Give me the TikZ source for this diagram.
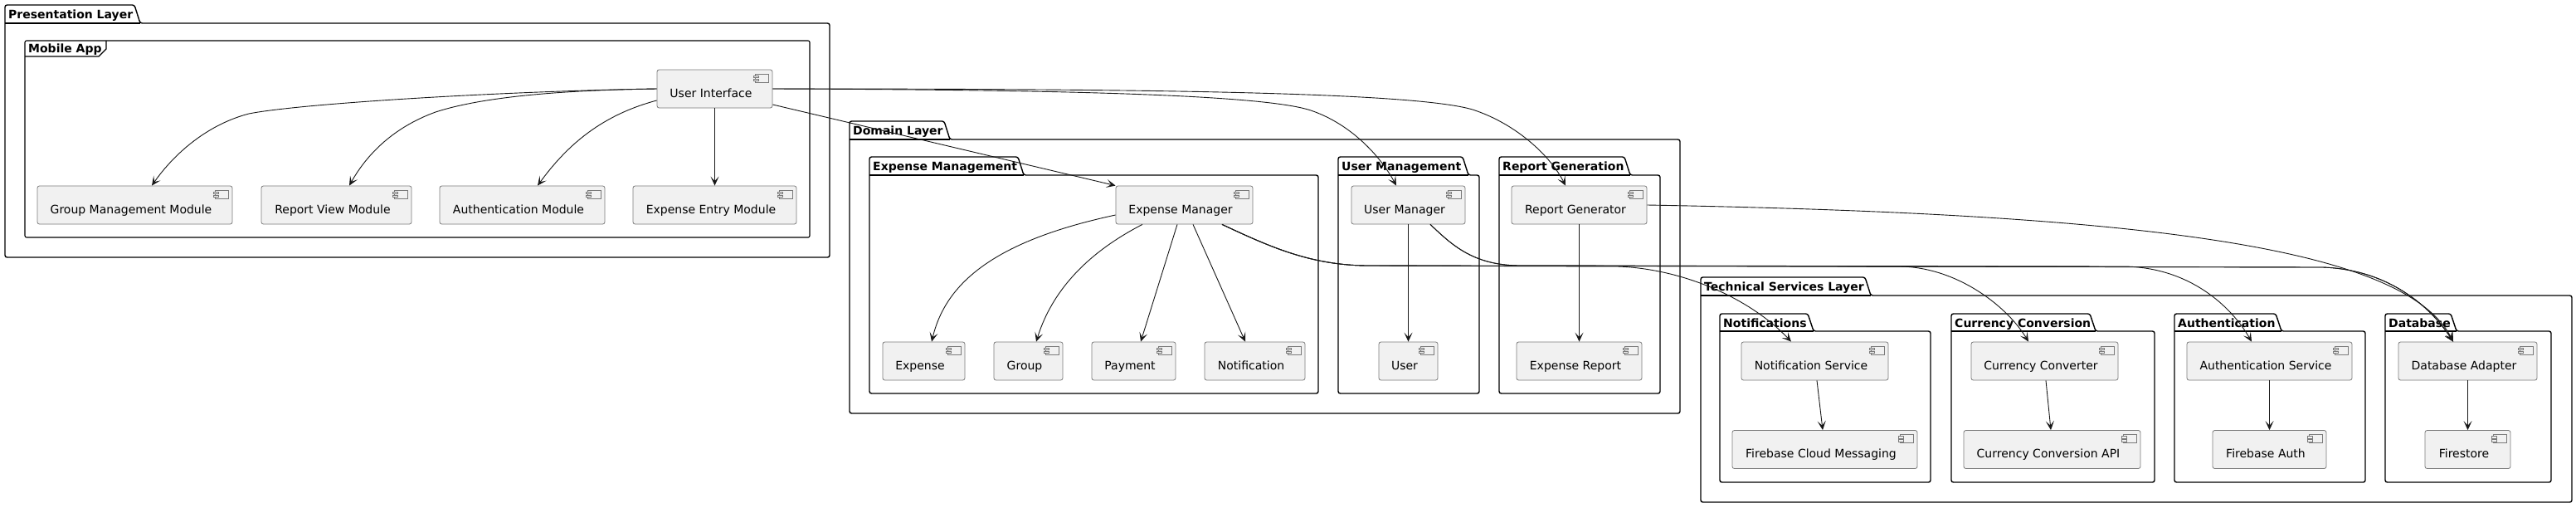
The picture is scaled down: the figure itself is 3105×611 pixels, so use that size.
\documentclass[tikz,border=0pt]{standalone}
\usepackage{fontspec}
\setmainfont{DejaVu Sans}
\usetikzlibrary{arrows.meta}
\definecolor{compfill}{HTML}{F1F1F1}
\definecolor{compline}{HTML}{7A7A7A}
\definecolor{arrowc}{HTML}{181818}
\tikzset{
  comp/.style={draw=compline, fill=compfill, line width=0.8pt, rounded corners=2.5pt,
    inner sep=0pt, minimum height=46pt, text height=25pt, text depth=5pt,
    font=\fontsize{14}{16}\selectfont, execute at begin node={\hspace*{-9pt}},
    path picture={
      \draw[sharp corners, draw=compline, line width=0.7pt, fill=compfill]
        ([xshift=-20.5pt,yshift=-5.3pt]path picture bounding box.north east) rectangle
        ([xshift=-4.5pt,yshift=-15.3pt]path picture bounding box.north east);
      \draw[sharp corners, draw=compline, line width=0.7pt, fill=compfill]
        ([xshift=-22.5pt,yshift=-7pt]path picture bounding box.north east) rectangle
        ([xshift=-17pt,yshift=-9.5pt]path picture bounding box.north east);
      \draw[sharp corners, draw=compline, line width=0.7pt, fill=compfill]
        ([xshift=-22.5pt,yshift=-11.2pt]path picture bounding box.north east) rectangle
        ([xshift=-17pt,yshift=-13.7pt]path picture bounding box.north east);
    }},
  pkg/.style={draw=black, line width=1.4pt, rounded corners=2.5pt},
  pkgtab/.style={draw=black, line width=1.4pt},
  frm/.style={draw=black, line width=1.1pt},
  pkglabel/.style={anchor=base west, inner sep=0pt, font=\bfseries\fontsize{14}{16}\selectfont},
  arr/.style={draw=arrowc, line width=0.9pt, -{Stealth[length=11pt,width=10pt,inset=5.5pt]}}
}
% #1 name, #2 L, #3 T, #4 body top, #5 bottom, #6 R, #7 tab right, #8 label
\newcommand{\pkgbox}[8]{%
  \draw[pkg] (#2,#5) -- (#2,#3) -- (#7,#3) -- ({#7+7},#4) -- (#6,#4) -- (#6,#5) -- cycle;
  \draw[pkgtab] (#2,#4) -- ({#7+7},#4);
  \node[pkglabel] (#1) at ({#2+4},{#3+16}) {#8};}
\begin{document}
\begin{tikzpicture}[x=1pt,y=-1pt]
\useasboundingbox[fill=white] (0,0) rectangle (3105,611);

% packages
\pkgbox{pres}{6}{6}{28}{310}{1000}{162}{Presentation Layer}
\pkgbox{domain}{1024}{146}{168}{498}{2025}{1138}{Domain Layer}
\pkgbox{expmgmt}{1048}{189}{211}{474}{1589}{1227}{Expense Management}
\pkgbox{usermgmt}{1613}{189}{211}{474}{1783}{1763}{User Management}
\pkgbox{repgen}{1807}{189}{211}{474}{2001}{1958}{Report Generation}
\pkgbox{tech}{2050}{334}{356}{605}{3100}{2248}{Technical Services Layer}
\pkgbox{notifs}{2073}{378}{399}{581}{2327}{2179}{Notifications}
\pkgbox{curconv}{2352}{378}{399}{581}{2597}{2519}{Currency Conversion}
\pkgbox{authpkg}{2621}{378}{399}{581}{2851}{2743}{Authentication}
\pkgbox{dbpkg}{2875}{378}{399}{581}{3075}{2954}{Database}

% frame
\draw[frm, rounded corners=2pt] (30,49) rectangle (976,286);
\draw[frm] (30,68) -- (119,68) -- (128,59) -- (128,49);
\node[pkglabel] (mobileapp) at (34,63) {Mobile App};

% components
\node[comp, minimum width=139pt] (ui) at (861.5,107) {User Interface};
\node[comp, minimum width=235pt] (gmm) at (162.5,247) {Group Management Module};
\node[comp, minimum width=181pt] (rvm) at (405.5,247) {Report View Module};
\node[comp, minimum width=199pt] (am) at (629.5,247) {Authentication Module};
\node[comp, minimum width=197pt] (eem) at (861.5,247) {Expense Entry Module};

\node[comp, minimum width=165pt] (emgr) at (1427.5,247) {Expense Manager};
\node[comp, minimum width=99pt] (expense) at (1113.5,435) {Expense};
\node[comp, minimum width=83pt] (group) at (1239.5,435) {Group};
\node[comp, minimum width=101pt] (payment) at (1366.5,435) {Payment};
\node[comp, minimum width=121pt] (notif) at (1512.5,435) {Notification};
\node[comp, minimum width=137pt] (umgr) at (1697.5,247) {User Manager};
\node[comp, minimum width=71pt] (user) at (1697.5,435) {User};
\node[comp, minimum width=163pt] (rgen) at (1903.5,247) {Report Generator};
\node[comp, minimum width=151pt] (er) at (1903.5,435) {Expense Report};

\node[comp, minimum width=177pt] (ns) at (2187.5,435) {Notification Service};
\node[comp, minimum width=223pt] (fcm) at (2199.5,541.5) {Firebase Cloud Messaging};
\node[comp, minimum width=177pt] (cconv) at (2464.5,435) {Currency Converter};
\node[comp, minimum width=213pt] (capi) at (2473.5,541.5) {Currency Conversion API};
\node[comp, minimum width=199pt] (as) at (2735.5,435) {Authentication Service};
\node[comp, minimum width=137pt] (fa) at (2735.5,541.5) {Firebase Auth};
\node[comp, minimum width=167pt] (dba) at (2974.5,435) {Database Adapter};
\node[comp, minimum width=103pt] (fs) at (2974.5,541.5) {Firestore};

% connectors: presentation
\draw[arr] (ui.west) .. controls (600,110) and (360,125) .. (300,137)
  .. controls (250,150) and (210,185) .. ([xshift=20.5pt]gmm.north);
\draw[arr] (ui.west) .. controls (640,109) and (565,122) .. (525,135)
  .. controls (470,155) and (440,190) .. ([xshift=15.5pt]rvm.north);
\draw[arr] ([yshift=-14pt]ui.west) .. controls (720,140) and (680,180) .. ([xshift=18.5pt]am.north);
\draw[arr] (ui.south) -- (eem.north);
\draw[arr] ([yshift=-19pt]ui.east) -- (emgr.north west);
\draw[arr] (ui.east) .. controls (1250,108) and (1520,113) .. (1580,133)
  .. controls (1630,150) and (1665,190) .. ([xshift=-14.5pt]umgr.north);
\draw[arr] (ui.east) .. controls (1350,107) and (1700,110) .. (1775,132)
  .. controls (1830,150) and (1870,190) .. ([xshift=-16.5pt]rgen.north);

% connectors: domain
\draw[arr] ([yshift=-12pt]emgr.west) .. controls (1200,290) and (1140,340) .. ([xshift=9.5pt]expense.north);
\draw[arr] ([xshift=-50.5pt]emgr.south) .. controls (1300,310) and (1265,360) .. ([xshift=9.5pt]group.north);
\draw[arr] ([xshift=-8.5pt]emgr.south) -- ([xshift=8.5pt]payment.north);
\draw[arr] ([xshift=10.5pt]emgr.south) -- ([xshift=-11.5pt]notif.north);
\draw[arr] (umgr.south) -- (user.north);
\draw[arr] (rgen.south) -- (er.north);

% connectors: to technical services
\draw[arr] ([xshift=45.5pt]emgr.south) .. controls (1530,297) and (1580,320) .. (1650,320)
  -- (1950,321) .. controls (2030,324) and (2110,360) .. ([xshift=-28.5pt]ns.north);
\draw[arr] ([xshift=45.5pt]emgr.south) .. controls (1530,297) and (1580,320) .. (1650,320)
  -- (2290,321) .. controls (2360,322) and (2420,370) .. ([xshift=-19.5pt]cconv.north);
\draw[arr] ([xshift=45.5pt]emgr.south) .. controls (1530,297) and (1580,320) .. (1650,320)
  -- (2800,322) .. controls (2880,325) and (2930,370) .. ([xshift=-17.5pt]dba.north);
\draw[arr] ([xshift=26.5pt]umgr.south) .. controls (1750,295) and (1775,319) .. (1830,320)
  -- (2560,321) .. controls (2640,322) and (2690,370) .. ([xshift=-21.5pt]as.north);
\draw[arr] ([xshift=26.5pt]umgr.south) .. controls (1750,295) and (1775,319) .. (1830,320)
  -- (2800,322) .. controls (2880,325) and (2930,370) .. ([xshift=-17.5pt]dba.north);
\draw[arr] (rgen.east) .. controls (2600,258) and (2900,300) .. ([xshift=-17.5pt]dba.north);

% connectors: technical services
\draw[arr] ([xshift=2.5pt]ns.south) -- ([xshift=-2.5pt]fcm.north);
\draw[arr] ([xshift=1.5pt]cconv.south) -- ([xshift=-1.5pt]capi.north);
\draw[arr] (as.south) -- (fa.north);
\draw[arr] (dba.south) -- (fs.north);
\end{tikzpicture}
\end{document}
